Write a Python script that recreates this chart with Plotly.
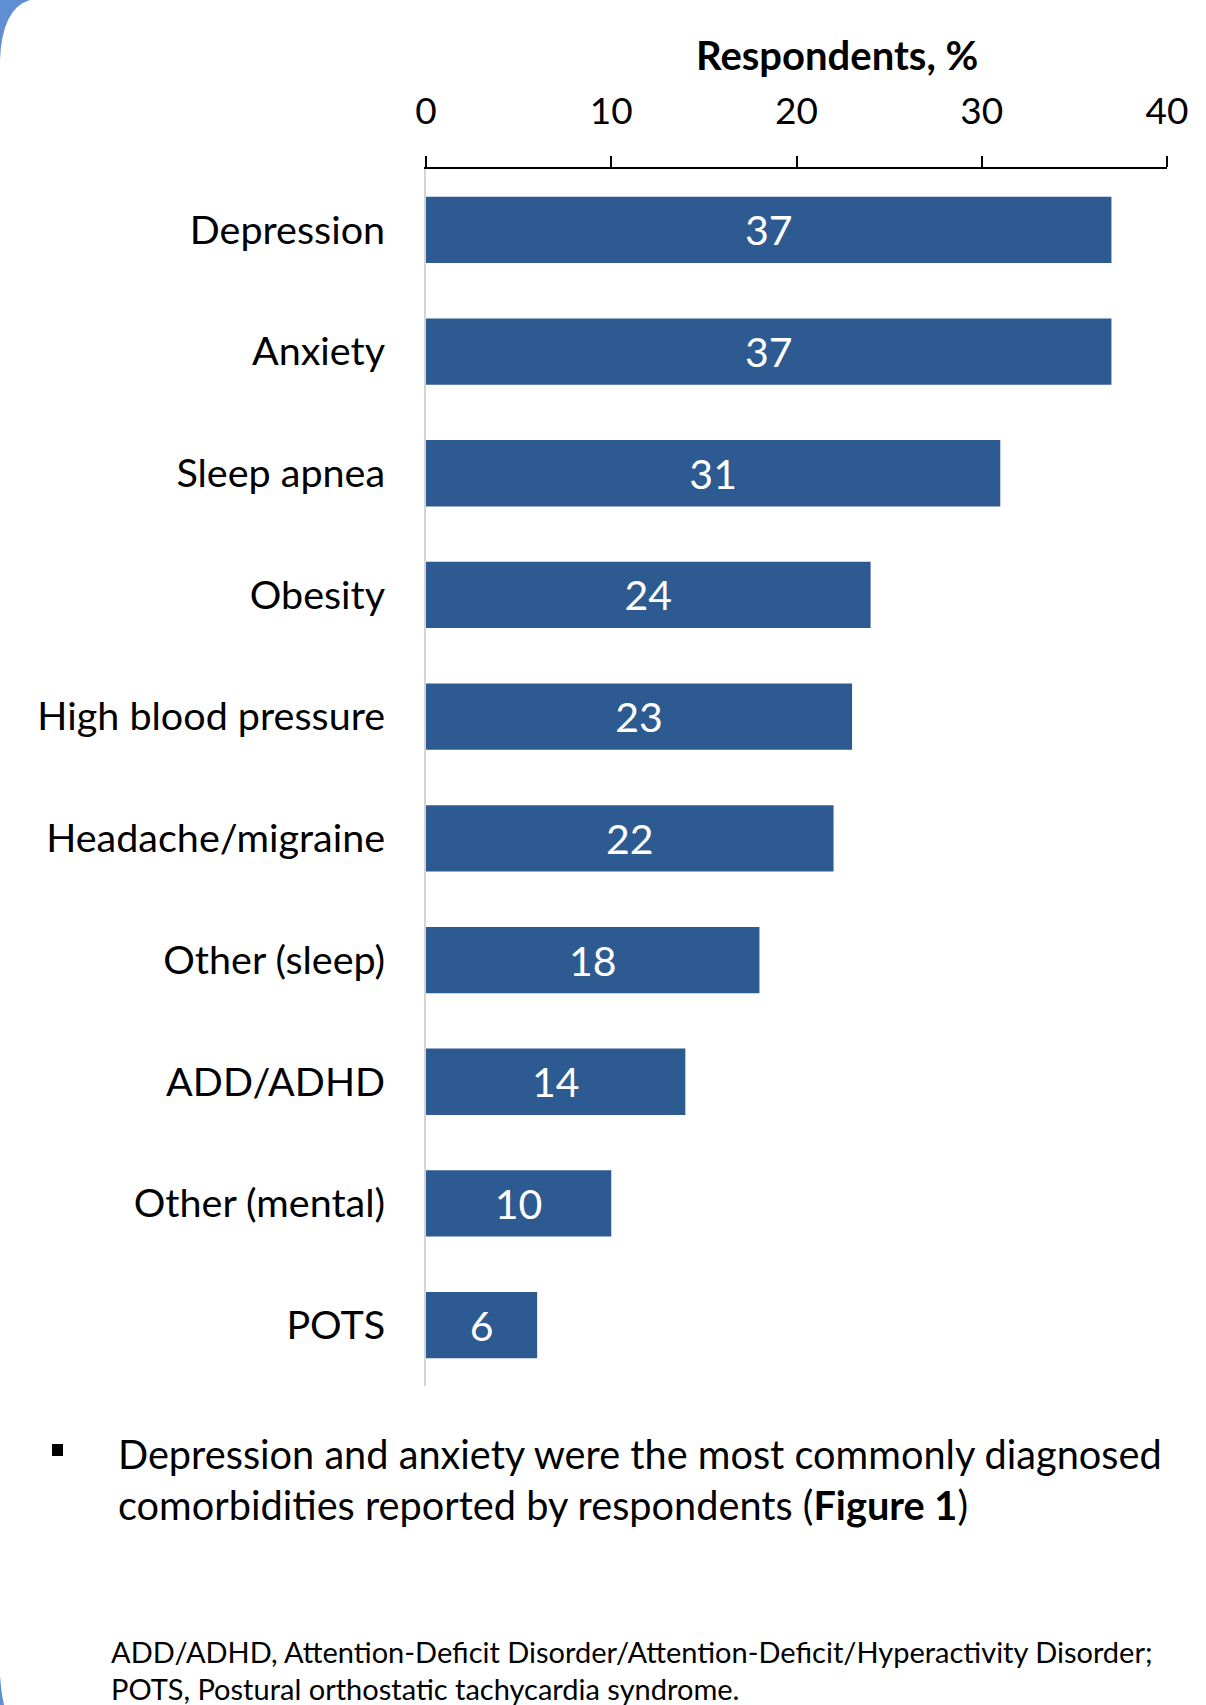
import plotly.graph_objects as go

# Comorbidity prevalence among respondents
categories = [
    "Depression", "Anxiety", "Sleep apnea", "Obesity", "High blood pressure",
    "Headache/migraine", "Other (sleep)", "ADD/ADHD", "Other (mental)", "POTS",
]
percent = [37, 37, 31, 24, 23, 22, 18, 14, 10, 6]
x_ticks = [0, 10, 20, 30, 40]

FONT = "Lato"
BAR = "#2D5A91"

W, H = 1206, 1705
L, R, T, B = 426, 39, 169, 319
PW, PH = W - L - R, H - T - B


def px(x):
    return (x - L) / PW


def py(y):
    return (H - B - y) / PH


fig = go.Figure(
    go.Bar(
        x=percent,
        y=categories,
        orientation="h",
        marker=dict(color=BAR, line=dict(width=0)),
        text=[str(v) for v in percent],
        textposition="inside",
        insidetextanchor="middle",
        textangle=0,
        constraintext="none",
        textfont=dict(family=FONT, size=41, color="white"),
        hoverinfo="skip",
    )
)

fig.update_layout(
    width=W,
    height=H,
    margin=dict(l=L, r=R, t=T, b=B, pad=0),
    paper_bgcolor="white",
    plot_bgcolor="white",
    bargap=0.455,
    showlegend=False,
    font=dict(family=FONT, color="black"),
)

fig.update_xaxes(
    side="top",
    range=[0, 40],
    tickvals=x_ticks,
    ticktext=[str(t) for t in x_ticks],
    showgrid=False,
    zeroline=False,
    showline=True,
    linecolor="black",
    linewidth=2,
    ticks="outside",
    ticklen=11,
    tickwidth=2,
    tickcolor="black",
    ticklabelstandoff=17,
    tickfont=dict(family=FONT, size=37, color="black"),
)

fig.update_yaxes(
    type="category",
    categoryorder="array",
    categoryarray=categories,
    autorange="reversed",
    showgrid=False,
    zeroline=False,
    showline=True,
    linecolor="#D4D4D4",
    linewidth=2,
    ticks="",
    ticklabelstandoff=31,
    tickfont=dict(family=FONT, size=39.5, color="black"),
)

annotations = [
    dict(text="<b>Respondents, %</b>", x=px(837), y=py(55), xanchor="center",
         yanchor="middle", font=dict(family=FONT, size=40, color="black")),
    dict(text="Depression and anxiety were the most commonly diagnosed",
         x=px(116), y=py(1453), xanchor="left", yanchor="middle",
         font=dict(family=FONT, size=39.7, color="black")),
    dict(text="comorbidities reported by respondents (<b>Figure 1</b>)",
         x=px(116), y=py(1504), xanchor="left", yanchor="middle",
         font=dict(family=FONT, size=39.7, color="black")),
    dict(text="ADD/ADHD, Attention-Deficit Disorder/Attention-Deficit/Hyperactivity Disorder;",
         x=px(109), y=py(1651), xanchor="left", yanchor="middle",
         font=dict(family=FONT, size=29, color="black")),
    dict(text="POTS, Postural orthostatic tachycardia syndrome.",
         x=px(109), y=py(1688), xanchor="left", yanchor="middle",
         font=dict(family=FONT, size=29, color="black")),
]
for a in annotations:
    a.update(xref="paper", yref="paper", showarrow=False, align="left")
fig.update_layout(annotations=annotations)

# Bullet marker and the rounded blue frame corners
shapes = [
    dict(type="rect", xref="paper", yref="paper",
         x0=px(52), x1=px(63), y0=py(1456), y1=py(1444),
         fillcolor="black", line=dict(width=0)),
    dict(type="path", xref="paper", yref="paper",
         path=(f"M {px(0)},{py(0)} L {px(30)},{py(0)} "
               f"Q {px(2)},{py(8)} {px(0)},{py(60)} Z"),
         fillcolor="#5F8ED3", line=dict(width=0)),
    dict(type="path", xref="paper", yref="paper",
         path=(f"M {px(0)},{py(1675)} Q {px(1)},{py(1692)} {px(4)},{py(1705)} "
               f"L {px(0)},{py(1705)} Z"),
         fillcolor="#5F8ED3", line=dict(width=0)),
]
fig.update_layout(shapes=shapes)

fig.write_html("out.html")
